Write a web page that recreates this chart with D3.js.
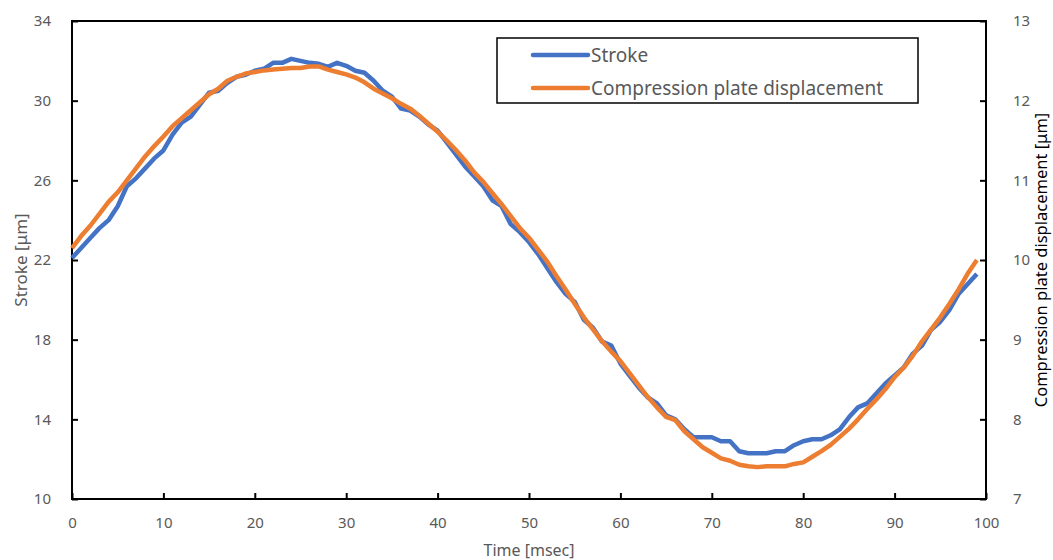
<!DOCTYPE html>
<html>
<head>
<meta charset="utf-8">
<script src="https://cdn.jsdelivr.net/npm/d3@7"></script>
<style>
  body { margin: 0; background: #fff; }
  text { font-family: "Noto Sans", "Open Sans", sans-serif; fill: #595959; }
</style>
</head>
<body>
<script>
// time in msec
const time = d3.range(0, 100);

// Stroke [um], left axis
const stroke = [
  22.1, 22.6, 23.1, 23.6, 24.0, 24.7, 25.7, 26.1, 26.6, 27.1,
  27.5, 28.3, 28.9, 29.2, 29.8, 30.4, 30.5, 30.9, 31.2, 31.3,
  31.5, 31.6, 31.9, 31.9, 32.1, 32.0, 31.9, 31.85, 31.7, 31.9,
  31.75, 31.5, 31.4, 31.0, 30.5, 30.2, 29.6, 29.5, 29.2, 28.8,
  28.5, 27.9, 27.3, 26.7, 26.2, 25.7, 25.0, 24.7, 23.8, 23.4,
  22.9, 22.3, 21.6, 20.9, 20.3, 19.9, 19.0, 18.6, 17.9, 17.7,
  16.8, 16.2, 15.6, 15.1, 14.8, 14.2, 14.0, 13.5, 13.1, 13.1,
  13.1, 12.9, 12.9, 12.4, 12.3, 12.3, 12.3, 12.4, 12.4, 12.7,
  12.9, 13.0, 13.0, 13.2, 13.5, 14.1, 14.6, 14.8, 15.3, 15.8,
  16.2, 16.6, 17.3, 17.7, 18.5, 18.9, 19.5, 20.3, 20.8, 21.3
];

// Compression plate displacement [um], right axis
const plate = [
  10.15, 10.30, 10.43, 10.58, 10.73, 10.85, 11.00, 11.15, 11.30, 11.43,
  11.55, 11.68, 11.78, 11.88, 11.98, 12.08, 12.15, 12.25, 12.30, 12.34,
  12.36, 12.38, 12.39, 12.40, 12.41, 12.41, 12.43, 12.43, 12.39, 12.36,
  12.33, 12.29, 12.23, 12.15, 12.09, 12.03, 11.96, 11.90, 11.81, 11.71,
  11.61, 11.50, 11.38, 11.25, 11.10, 10.98, 10.84, 10.70, 10.55, 10.40,
  10.28, 10.13, 9.98, 9.80, 9.63, 9.45, 9.28, 9.13, 8.98, 8.85,
  8.73, 8.58, 8.43, 8.28, 8.15, 8.03, 7.99, 7.85, 7.75, 7.65,
  7.58, 7.51, 7.48, 7.43, 7.41, 7.40, 7.41, 7.41, 7.41, 7.44,
  7.46, 7.53, 7.60, 7.68, 7.78, 7.88, 8.00, 8.13, 8.25, 8.38,
  8.53, 8.65, 8.80, 8.98, 9.13, 9.28, 9.45, 9.63, 9.83, 10.00
];

const xTicks = d3.range(0, 101, 10);
const leftTicks = [10, 14, 18, 22, 26, 30, 34];
const rightTicks = [7, 8, 9, 10, 11, 12, 13];
const seriesNames = ['Stroke', 'Compression plate displacement'];

const width = 1053, height = 560;
const margin = { top: 21, right: 67, bottom: 61, left: 72 };

const svg = d3.select('body').append('svg')
  .attr('width', width)
  .attr('height', height);

const x = d3.scaleLinear().domain([0, 100]).range([margin.left, width - margin.right]);
const yL = d3.scaleLinear().domain([10, 34]).range([height - margin.bottom, margin.top]);
const yR = d3.scaleLinear().domain([7, 13]).range([height - margin.bottom, margin.top]);

// plot frame
svg.append('rect')
  .attr('x', margin.left).attr('y', margin.top)
  .attr('width', width - margin.left - margin.right)
  .attr('height', height - margin.top - margin.bottom)
  .attr('fill', 'none').attr('stroke', '#000').attr('stroke-width', 2);

function styleAxis(g) {
  g.select('.domain').remove();
  g.selectAll('line').attr('stroke', '#000').attr('stroke-width', 2);
  g.selectAll('text').style('font-size', '15px').attr('fill', '#595959');
}

svg.append('g')
  .attr('transform', `translate(0,${height - margin.bottom})`)
  .call(d3.axisBottom(x).tickValues(xTicks).tickSizeInner(-6).tickPadding(18))
  .call(styleAxis);

svg.append('g')
  .attr('transform', `translate(${margin.left},0)`)
  .call(d3.axisLeft(yL).tickValues(leftTicks).tickSizeInner(-6).tickPadding(21))
  .call(styleAxis);

svg.append('g')
  .attr('transform', `translate(${width - margin.right},0)`)
  .call(d3.axisRight(yR).tickValues(rightTicks).tickFormat(d3.format('d')).tickSizeInner(-6).tickPadding(27))
  .call(styleAxis);

// axis titles
svg.append('text')
  .attr('x', (margin.left + width - margin.right) / 2)
  .attr('y', 556)
  .attr('text-anchor', 'middle')
  .style('font-size', '16px')
  .text('Time [msec]');

svg.append('text')
  .attr('transform', `translate(27,${(margin.top + height - margin.bottom) / 2}) rotate(-90)`)
  .attr('text-anchor', 'middle')
  .style('font-size', '17px')
  .text('Stroke [μm]');

svg.append('text')
  .attr('transform', `translate(1047,${(margin.top + height - margin.bottom) / 2}) rotate(-90)`)
  .attr('text-anchor', 'middle')
  .style('font-size', '16.5px')
  .style('fill', '#000')
  .text('Compression plate displacement [μm]');

// lines
const lineL = d3.line().x((d, i) => x(time[i])).y(d => yL(d));
const lineR = d3.line().x((d, i) => x(time[i])).y(d => yR(d));

svg.append('path')
  .datum(stroke)
  .attr('d', lineL)
  .attr('fill', 'none')
  .attr('stroke', '#4472C4')
  .attr('stroke-width', 4.5)
  .attr('stroke-linejoin', 'round');

svg.append('path')
  .datum(plate)
  .attr('d', lineR)
  .attr('fill', 'none')
  .attr('stroke', '#ED7D31')
  .attr('stroke-width', 4.5)
  .attr('stroke-linejoin', 'round');

// legend
const legend = svg.append('g').attr('transform', 'translate(497,38)');
legend.append('rect')
  .attr('width', 421).attr('height', 65)
  .attr('fill', '#fff').attr('stroke', '#000').attr('stroke-width', 1.5);

const colors = ['#4472C4', '#ED7D31'];
seriesNames.forEach((name, i) => {
  const yy = 17 + i * 33;
  legend.append('line')
    .attr('x1', 36).attr('x2', 91)
    .attr('y1', yy).attr('y2', yy)
    .attr('stroke', colors[i]).attr('stroke-width', 4.5)
    .attr('stroke-linecap', 'round');
  legend.append('text')
    .attr('x', 94).attr('y', yy)
    .attr('dy', '0.35em')
    .style('font-size', '19px')
    .text(name);
});
</script>
</body>
</html>
